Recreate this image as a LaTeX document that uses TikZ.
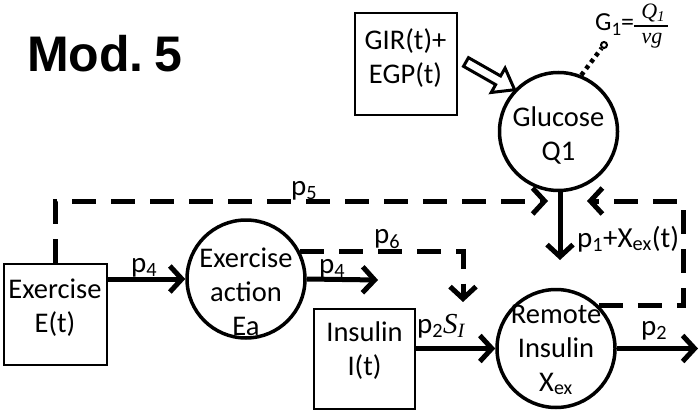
\documentclass[tikz,border=0pt]{standalone}
\usepackage{fontspec}
\setmainfont{Carlito}
\newfontfamily\modfont{Liberation Sans}
\newfontfamily\cambit{Liberation Serif}
\usetikzlibrary{arrows.meta}
\begin{document}
\begin{tikzpicture}[x=1pt,y=-1pt,
  txt/.style={font=\fontsize{28.5}{34}\selectfont, align=center, inner sep=0pt},
  lbl/.style={font=\fontsize{29}{34}\selectfont, inner sep=0pt, anchor=base west},
  frc/.style={font=\cambit\itshape\fontsize{22}{24}\selectfont, inner sep=0pt, anchor=base},
  box/.style={draw, line width=2pt, inner sep=0pt},
  circ/.style={draw, circle, line width=3.5pt, inner sep=0pt, minimum size=118pt},
  arr/.style={line width=5pt, -{Straight Barb[length=12pt,width=26pt]}},
  dsh/.style={line width=5pt, dash pattern=on 24pt off 15pt, -{Straight Barb[length=12pt,width=26pt]}},
  dotl/.style={line width=4.5pt, dash pattern=on 4pt off 4pt},
]
\useasboundingbox (0,0) rectangle (700,414);

% title
\node[anchor=base west, inner sep=0pt, font=\modfont\bfseries\fontsize{50}{60}\selectfont] (title) at (27,72) {Mod.\hspace{11pt}5};

% boxes
\node[box, minimum width=102pt, minimum height=102pt] (gir) at (405.5,64) {};
\node[txt] (girt) at (405.5,58) {GIR(t)+\\EGP(t)};
\node[box, minimum width=103pt, minimum height=101pt] (ex) at (55.5,314) {};
\node[txt] (ext) at (55,308) {Exercise\\E(t)};
\node[box, minimum width=101pt, minimum height=100pt] (ins) at (364.5,359) {};
\node[txt] (inst) at (364.5,351) {Insulin\\I(t)};

% circles
\node[circ] (glu) at (558.5,131.5) {};
\node[txt] (glut) at (558.5,135) {Glucose\\Q1};
\node[circ] (ea) at (246,279) {};
\node[txt] (eat) at (246,292) {Exercise\\action\\Ea};
\node[circ] (rem) at (556,348.5) {};
\node[txt] (remt) at (556,350) {Remote\\Insulin\\X\textsubscript{ex}};

% G1 label and probe
\node[draw, circle, line width=2pt, minimum size=6pt, inner sep=0pt] (g1c) at (604,45) {};
\node[inner sep=0pt, anchor=base west, font=\fontsize{26}{28}\selectfont] (g1) at (595,31)
  {G\raisebox{-5pt}{\fontsize{19}{20}\selectfont 1}=};
\node[frc] (g1n) at (653,19) {Q\raisebox{-3pt}{\fontsize{15}{16}\selectfont 1}};
\node[frc] (g1d) at (652,44) {vg};
\draw[line width=1.5pt] (g1.east |- 0,26) -- (668,26);
\draw[dotl] (glu.68) -- (g1c);

% hollow arrow GIR -> Glucose
\begin{scope}[shift={(466,62)}, rotate=-29.7]
  \draw[line width=3pt, miter limit=10]
    (0,-5) -- (37,-5) -- (37,-14) -- (56,0) -- (37,14) -- (37,5) -- (0,5) -- cycle;
\end{scope}

% coordinates for free ends
\coordinate (gin1) at (548,201);
\coordinate (gin2) at (587,201);
\coordinate (fb) at (683,201);
\coordinate (p4end) at (378,280);
\coordinate (p6end) at (463,302);
\coordinate (gend) at (560,260);
\coordinate (outend) at (698,348.5);

% solid arrows
\draw[arr] (ex.east |- ea.west) -- (ea.west);
\draw[arr] (ea.east) -- (p4end);
\draw[arr] (ins.east |- rem.west) -- (rem.west);
\draw[arr] (rem.east) -- (outend);
\draw[arr] (glu.south -| gend) -- (gend);

% dashed arrows
\draw[dsh] (ex.north) |- (gin1);
\draw[dsh] (ea.27) -| (p6end);
\draw[dsh] (rem.45) -| (fb) -- (gin2);

% labels
\node[lbl] (lp5) at (291,195) {p\textsubscript{5}};
\node[lbl] (lp4a) at (131,272) {p\textsubscript{4}};
\node[lbl] (lp4b) at (319,273) {p\textsubscript{4}};
\node[lbl] (lp6) at (374,243) {p\textsubscript{6}};
\node[lbl] (lp2s) at (417,333) {p\textsubscript{2}{\cambit\itshape S\textsubscript{I}}};
\node[lbl] (lp2) at (641,335) {p\textsubscript{2}};
\node[lbl] (lp1) at (577,247) {p\textsubscript{1}+X\textsubscript{ex}(t)};
\end{tikzpicture}
\end{document}
